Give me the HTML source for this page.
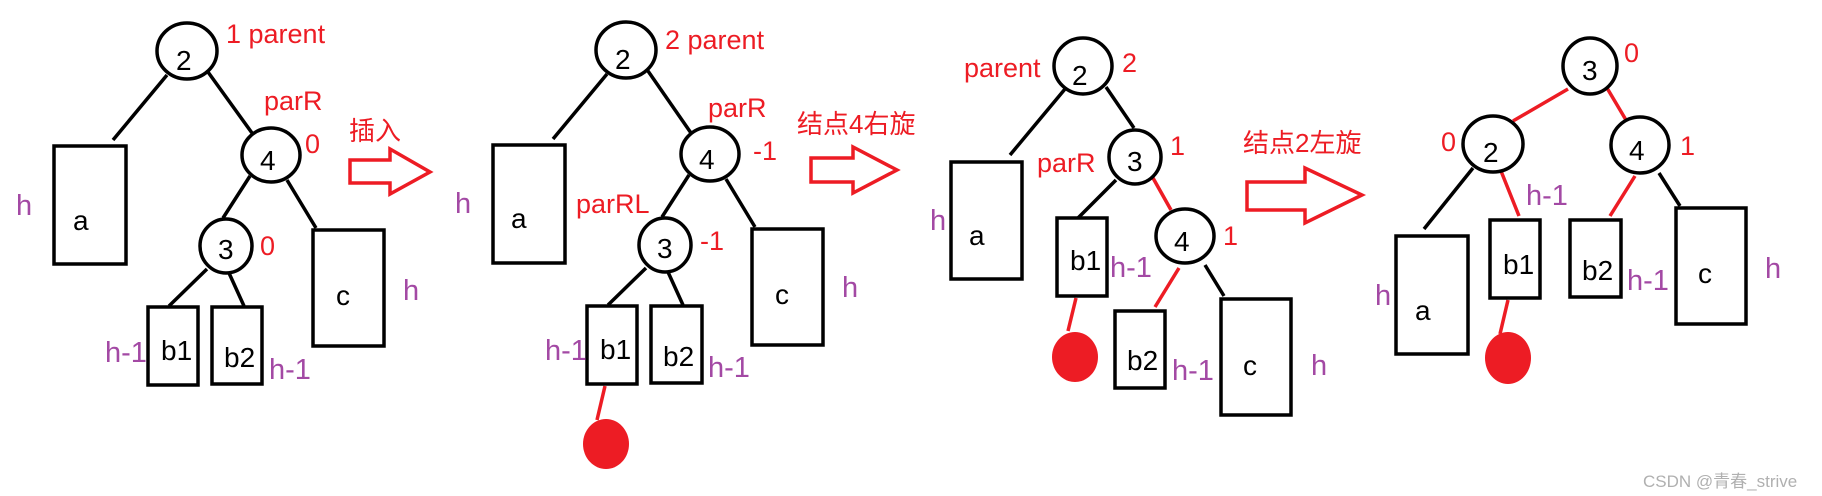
<!DOCTYPE html>
<html><head><meta charset="utf-8"><style>
html,body{margin:0;padding:0;background:#fff;}
svg{display:block;}
text{font-family:"Liberation Sans","Noto Sans CJK SC",sans-serif;}
.k{fill:#000;font-size:28px;}
.r{fill:#ed1c24;font-size:27px;}
.p{fill:#a349a4;font-size:29px;}
.c{fill:none;stroke:#000;stroke-width:3.5;}
.l{stroke:#000;stroke-width:3.5;}
.rl{stroke:#ed1c24;stroke-width:3.5;}
.ar{fill:none;stroke:#ed1c24;stroke-width:3.5;}
</style></head><body>
<svg width="1822" height="496" viewBox="0 0 1822 496" xmlns="http://www.w3.org/2000/svg">
<!-- Panel 1 -->
<line class="l" x1="167" y1="75" x2="113" y2="140"/>
<line class="l" x1="208" y1="72" x2="252" y2="133"/>
<line class="l" x1="250" y1="176" x2="223" y2="218"/>
<line class="l" x1="287" y1="180" x2="316" y2="228"/>
<line class="l" x1="207" y1="269" x2="169" y2="306"/>
<line class="l" x1="229" y1="273" x2="244" y2="306"/>
<ellipse class="c" cx="187" cy="51" rx="30" ry="28"/>
<ellipse class="c" cx="271" cy="155" rx="29" ry="27"/>
<ellipse class="c" cx="226" cy="246" rx="26" ry="27"/>
<rect class="c" x="54" y="146" width="72" height="118"/>
<rect class="c" x="313" y="230" width="71" height="116"/>
<rect class="c" x="148" y="307" width="50" height="78"/>
<rect class="c" x="212" y="307" width="50" height="77"/>
<text class="k" x="176" y="70">2</text>
<text class="k" x="260" y="170">4</text>
<text class="k" x="218" y="259">3</text>
<text class="k" x="73" y="230">a</text>
<text class="k" x="336" y="305">c</text>
<text class="k" x="161" y="360">b1</text>
<text class="k" x="224" y="367">b2</text>
<text class="r" x="226" y="43">1 parent</text>
<text class="r" x="264" y="110">parR</text>
<text class="r" x="305" y="153">0</text>
<text class="r" x="260" y="255">0</text>
<text class="p" x="16" y="215">h</text>
<text class="p" x="403" y="300">h</text>
<text class="p" x="105" y="362">h-1</text>
<text class="p" x="269" y="379">h-1</text>
<polygon class="ar" points="350,160 390,160 390,149 430,172 390,194 390,183 350,183"/>
<text class="r" x="349" y="140" style="font-size:26px">插入</text>

<!-- Panel 2 -->
<line class="l" x1="607" y1="74" x2="553" y2="139"/>
<line class="l" x1="648" y1="71" x2="691" y2="133"/>
<line class="l" x1="689" y1="175" x2="662" y2="217"/>
<line class="l" x1="726" y1="179" x2="755" y2="227"/>
<line class="l" x1="646" y1="268" x2="608" y2="305"/>
<line class="l" x1="668" y1="272" x2="683" y2="305"/>
<line class="rl" x1="605" y1="386" x2="597" y2="420"/>
<ellipse cx="606" cy="444" rx="23" ry="25" fill="#ed1c24"/>
<ellipse class="c" cx="626" cy="50" rx="30" ry="28"/>
<ellipse class="c" cx="710" cy="154" rx="29" ry="27"/>
<ellipse class="c" cx="665" cy="245" rx="26" ry="27"/>
<rect class="c" x="493" y="145" width="72" height="118"/>
<rect class="c" x="752" y="229" width="71" height="116"/>
<rect class="c" x="587" y="306" width="50" height="78"/>
<rect class="c" x="651" y="306" width="51" height="77"/>
<text class="k" x="615" y="69">2</text>
<text class="k" x="699" y="169">4</text>
<text class="k" x="657" y="258">3</text>
<text class="k" x="511" y="228">a</text>
<text class="k" x="775" y="304">c</text>
<text class="k" x="600" y="359">b1</text>
<text class="k" x="663" y="366">b2</text>
<text class="r" x="665" y="49">2 parent</text>
<text class="r" x="708" y="117">parR</text>
<text class="r" x="753" y="160">-1</text>
<text class="r" x="576" y="213">parRL</text>
<text class="r" x="700" y="250">-1</text>
<text class="p" x="455" y="213">h</text>
<text class="p" x="842" y="297">h</text>
<text class="p" x="545" y="360">h-1</text>
<text class="p" x="708" y="377">h-1</text>
<polygon class="ar" points="811,158 853,158 853,147 897,170 853,193 853,182 811,182"/>
<text class="r" x="797" y="133" style="font-size:26px">结点4右旋</text>

<!-- Panel 3 -->
<line class="l" x1="1065" y1="89" x2="1010" y2="155"/>
<line class="l" x1="1106" y1="87" x2="1134" y2="128"/>
<line class="l" x1="1116" y1="180" x2="1078" y2="218"/>
<line class="rl" x1="1153" y1="178" x2="1171" y2="210"/>
<line class="rl" x1="1076" y1="298" x2="1068" y2="331"/>
<line class="rl" x1="1179" y1="268" x2="1155" y2="307"/>
<line class="l" x1="1205" y1="265" x2="1224" y2="296"/>
<ellipse cx="1075" cy="357" rx="23" ry="25" fill="#ed1c24"/>
<ellipse class="c" cx="1083" cy="66" rx="29" ry="28"/>
<ellipse class="c" cx="1135" cy="157" rx="26" ry="27"/>
<ellipse class="c" cx="1185" cy="236" rx="29" ry="27"/>
<rect class="c" x="951" y="162" width="71" height="117"/>
<rect class="c" x="1057" y="218" width="50" height="78"/>
<rect class="c" x="1115" y="311" width="50" height="77"/>
<rect class="c" x="1221" y="299" width="70" height="116"/>
<text class="k" x="1072" y="85">2</text>
<text class="k" x="1127" y="171">3</text>
<text class="k" x="1174" y="251">4</text>
<text class="k" x="969" y="245">a</text>
<text class="k" x="1243" y="375">c</text>
<text class="k" x="1070" y="270">b1</text>
<text class="k" x="1127" y="370">b2</text>
<text class="r" x="964" y="77">parent</text>
<text class="r" x="1122" y="72">2</text>
<text class="r" x="1037" y="172">parR</text>
<text class="r" x="1170" y="155">1</text>
<text class="r" x="1223" y="245">1</text>
<text class="p" x="930" y="230">h</text>
<text class="p" x="1110" y="277">h-1</text>
<text class="p" x="1172" y="380">h-1</text>
<text class="p" x="1311" y="375">h</text>
<polygon class="ar" points="1247,182 1305,182 1305,168 1362,195 1305,223 1305,210 1247,210"/>
<text class="r" x="1243" y="152" style="font-size:26px">结点2左旋</text>

<!-- Panel 4 -->
<line class="rl" x1="1568" y1="89" x2="1513" y2="121"/>
<line class="rl" x1="1607" y1="88" x2="1626" y2="120"/>
<line class="l" x1="1473" y1="168" x2="1424" y2="229"/>
<line class="rl" x1="1501" y1="171" x2="1519" y2="216"/>
<line class="rl" x1="1635" y1="176" x2="1610" y2="216"/>
<line class="l" x1="1659" y1="173" x2="1680" y2="206"/>
<line class="rl" x1="1508" y1="300" x2="1500" y2="334"/>
<ellipse cx="1508" cy="358" rx="23" ry="26" fill="#ed1c24"/>
<ellipse class="c" cx="1590" cy="66" rx="27" ry="28"/>
<ellipse class="c" cx="1493" cy="144" rx="30" ry="28"/>
<ellipse class="c" cx="1640" cy="145" rx="29" ry="28"/>
<rect class="c" x="1396" y="236" width="72" height="118"/>
<rect class="c" x="1490" y="220" width="50" height="78"/>
<rect class="c" x="1570" y="220" width="51" height="77"/>
<rect class="c" x="1676" y="208" width="70" height="116"/>
<text class="k" x="1582" y="80">3</text>
<text class="k" x="1483" y="162">2</text>
<text class="k" x="1629" y="160">4</text>
<text class="k" x="1415" y="320">a</text>
<text class="k" x="1698" y="283">c</text>
<text class="k" x="1503" y="274">b1</text>
<text class="k" x="1582" y="280">b2</text>
<text class="r" x="1624" y="62">0</text>
<text class="r" x="1441" y="151">0</text>
<text class="r" x="1680" y="155">1</text>
<text class="p" x="1375" y="305">h</text>
<text class="p" x="1526" y="205">h-1</text>
<text class="p" x="1627" y="290">h-1</text>
<text class="p" x="1765" y="278">h</text>
<text x="1643" y="487" style="font-size:17px;fill:#b0b0b0">CSDN @青春_strive</text>
</svg>
</body></html>
